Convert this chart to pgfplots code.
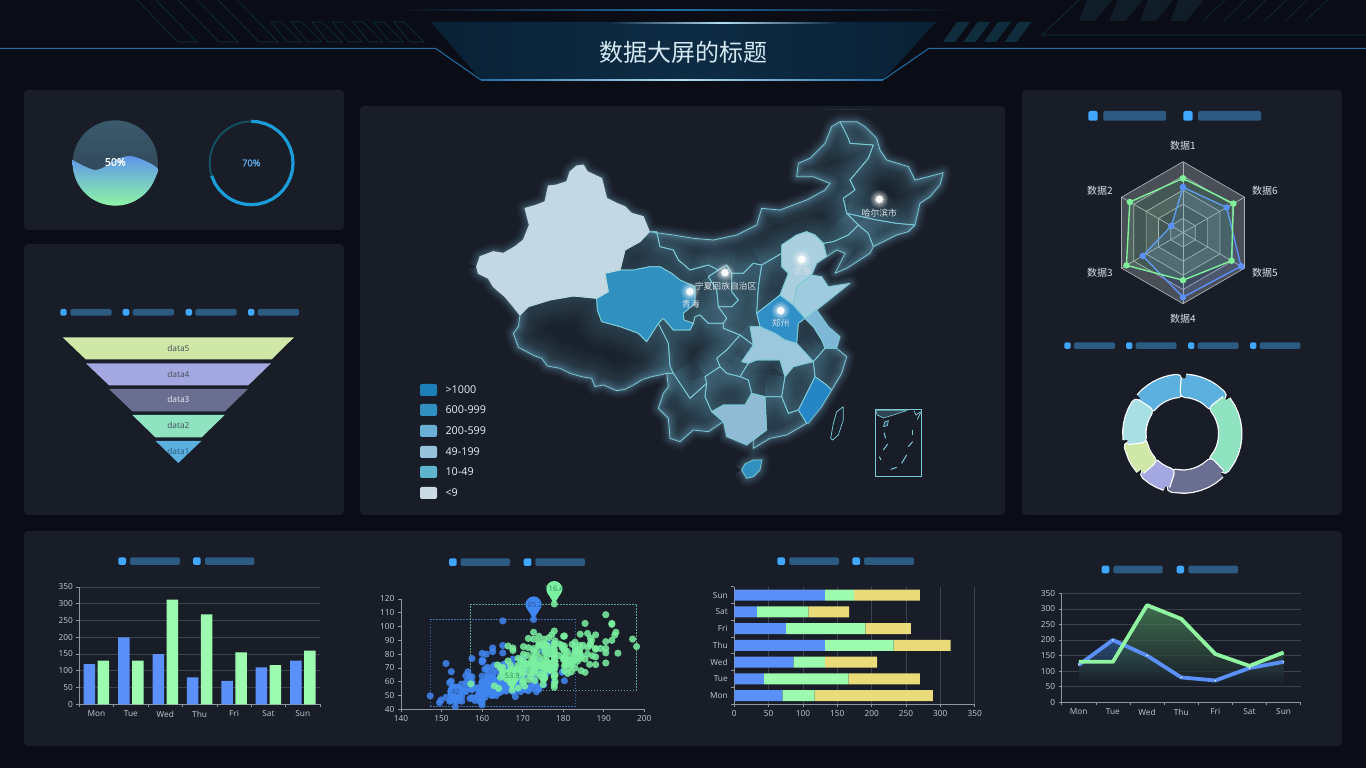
\documentclass[border=0pt]{standalone}
\usepackage{fontspec}
\setmainfont{Noto Sans}
\newfontfamily\cjk{Noto Sans CJK SC}
\newfontfamily\bfn{Noto Sans}[FakeBold=1.6]
\usepackage{pgfplots}
\usepackage{pgfplotstable}
\pgfplotsset{compat=1.18}
\usetikzlibrary{calc}
\definecolor{bgc}{HTML}{0A0D16}
\definecolor{panel}{HTML}{181D28}
\definecolor{sq}{HTML}{3FA7FF}
\definecolor{bar}{HTML}{2C5A80}
\definecolor{cblue}{HTML}{5B8FF9}
\definecolor{cgreen}{HTML}{9DFBAF}
\definecolor{cyel}{HTML}{E9DB7A}
\definecolor{tickc}{HTML}{B9C0C7}
\definecolor{axc}{HTML}{8F969E}
\definecolor{gridc}{HTML}{3B424C}
\definecolor{glowc}{HTML}{6A9DB4}
\definecolor{mapline}{HTML}{7CCAD6}
\definecolor{dec}{HTML}{0D3442}
\definecolor{decs}{HTML}{0F2D3D}
\definecolor{decd}{HTML}{101D29}
\definecolor{HTMLc1}{HTML}{1F6FA5}
\definecolor{HTMLc2}{HTML}{B5DCEF}
\definecolor{HTMLd1}{HTML}{0A2135}
\definecolor{HTMLd2}{HTML}{0D2C44}
\definecolor{HTMLt}{HTML}{D5E8F2}
\definecolor{HTMLw1}{HTML}{3A5A6C}
\definecolor{HTMLw2}{HTML}{2B3E4E}
\definecolor{HTMLw3}{HTML}{5F95EA}
\definecolor{HTMLw4}{HTML}{8EF5A5}
\definecolor{HTMLg1}{HTML}{14505F}
\definecolor{HTMLg2}{HTML}{1A9DD9}
\definecolor{HTMLg3}{HTML}{5AA6E0}
\definecolor{HTMLp1}{HTML}{5CB0E0}
\definecolor{HTMLp2}{HTML}{8FE3C0}
\definecolor{HTMLp3}{HTML}{6A6F92}
\definecolor{HTMLp4}{HTML}{A3A8E0}
\definecolor{HTMLp5}{HTML}{CFE8A8}
\definecolor{HTMLp6}{HTML}{A8DFE5}
\definecolor{HTMLf1}{HTML}{4A5560}
\definecolor{HTMLf2}{HTML}{E4E7EE}
\definecolor{HTMLf3}{HTML}{2F5F80}
\definecolor{HTMLm1}{HTML}{C3D8E2}
\definecolor{HTMLm2}{HTML}{3090BF}
\definecolor{HTMLm3}{HTML}{AACFDF}
\definecolor{HTMLm4}{HTML}{9FCBDF}
\definecolor{HTMLm5}{HTML}{2F8FC6}
\definecolor{HTMLm6}{HTML}{7FB8D6}
\definecolor{HTMLm7}{HTML}{9CC7DC}
\definecolor{HTMLm8}{HTML}{8FBCD4}
\definecolor{HTMLm9}{HTML}{2585C5}
\definecolor{HTMLm10}{HTML}{2F4553}
\definecolor{HTMLlab}{HTML}{DDE3E8}
\definecolor{HTMLl1}{HTML}{1D7FB7}
\definecolor{HTMLl3}{HTML}{6AB0D4}
\definecolor{HTMLl4}{HTML}{98C3DA}
\definecolor{HTMLl5}{HTML}{5EB4CF}
\definecolor{HTMLl6}{HTML}{C9DAE4}
\definecolor{HTMLr0}{HTML}{A9AEB4}
\definecolor{HTMLr1}{HTML}{4A4E56}
\definecolor{HTMLr2}{HTML}{3A4049}
\definecolor{HTMLr3}{HTML}{7FF09A}
\definecolor{HTMLs1}{HTML}{4086F0}
\definecolor{HTMLs2}{HTML}{7BF0A0}
\definecolor{HTMLs3}{HTML}{3F6FB0}
\definecolor{HTMLs4}{HTML}{4FA98A}
\definecolor{HTMLs5}{HTML}{2A559A}
\definecolor{HTMLs6}{HTML}{2F8A5A}
\definecolor{HTMLa1}{HTML}{2F5C8F}
\definecolor{HTMLa2}{HTML}{4F8F5F}
\definecolor{HTMLa3}{HTML}{90F5A0}
\newcommand\fs[1]{\fontsize{#1}{#1}\selectfont}
\newcommand\mk[2]{\pgfplotstableread[row sep=\\,header=false]{#2}#1}
% ---------- map polygons (picture coordinates) ----------
\mk\tXJ{50 470\\60 440\\100 425\\130 430\\165 410\\190 390\\208 345\\195 295\\230 285\\255 275\\265 228\\290 225\\320 215\\330 185\\350 168\\370 165\\382 185\\425 205\\440 265\\470 280\\495 290\\515 310\\550 320\\568 365\\540 395\\495 420\\480 480\\435 490\\445 545\\410 565\\340 558\\270 570\\205 590\\180 615\\160 590\\135 560\\100 530\\85 505\\55 490\\50 470\\}
\mk\tXZ{180 615\\205 590\\270 570\\340 558\\410 565\\412 600\\425 635\\480 650\\535 670\\560 695\\595 640\\600 650\\625 700\\630 770\\640 790\\620 790\\600 795\\575 800\\548 808\\520 825\\495 838\\470 842\\430 825\\405 830\\395 805\\365 800\\330 790\\300 775\\262 768\\245 745\\225 738\\175 712\\160 670\\175 650\\180 615\\}
\mk\tQH{435 490\\480 480\\520 480\\570 470\\600 470\\635 490\\660 510\\705 530\\705 580\\670 610\\672 630\\700 640\\690 660\\640 660\\610 625\\595 640\\560 695\\535 670\\480 650\\425 635\\412 600\\410 565\\445 545\\435 490\\}
\mk\tGS{568 365\\590 365\\600 410\\640 420\\655 450\\690 480\\745 465\\775 480\\745 500\\770 540\\775 590\\800 625\\790 640\\745 640\\720 615\\705 620\\700 640\\672 630\\670 610\\705 580\\705 530\\660 510\\635 490\\600 470\\570 470\\520 480\\480 480\\495 420\\540 395\\568 365\\}
\mk\tNX{745 500\\775 480\\800 465\\815 490\\815 545\\835 570\\815 590\\775 590\\770 540\\745 500\\}
\mk\tSN{815 490\\850 490\\880 460\\905 465\\895 530\\890 610\\900 650\\870 650\\880 705\\840 675\\790 655\\790 640\\800 625\\775 590\\815 590\\835 570\\815 545\\815 490\\}
\mk\tSX{905 465\\965 430\\965 470\\985 490\\960 555\\890 610\\895 530\\905 465\\}
\mk\tNM{568 365\\640 375\\700 385\\760 390\\830 375\\890 345\\905 295\\960 300\\1040 270\\1095 240\\1110 220\\1060 200\\1010 200\\1015 160\\1050 145\\1095 100\\1115 50\\1140 35\\1165 85\\1170 100\\1240 105\\1225 145\\1170 210\\1185 240\\1150 265\\1160 310\\1195 345\\1165 375\\1120 395\\1090 400\\1065 375\\1040 365\\1010 375\\965 405\\965 430\\905 465\\880 460\\850 490\\815 490\\800 465\\775 480\\745 465\\690 480\\655 450\\640 420\\600 410\\590 365\\568 365\\}
\mk\tHL{1140 35\\1190 35\\1215 50\\1250 85\\1260 120\\1280 150\\1345 170\\1365 210\\1405 200\\1450 188\\1440 225\\1410 260\\1380 280\\1365 345\\1310 340\\1250 330\\1160 310\\1150 265\\1185 240\\1170 210\\1225 145\\1240 105\\1170 100\\1165 85\\1140 35\\}
\mk\tJL{1160 310\\1250 330\\1310 340\\1365 345\\1345 365\\1310 375\\1270 395\\1240 410\\1225 370\\1195 345\\1160 310\\}
\mk\tLN{1195 345\\1225 370\\1240 410\\1230 430\\1160 475\\1125 490\\1155 430\\1130 420\\1100 440\\1090 400\\1120 395\\1165 375\\1195 345\\}
\mk\tHE{965 405\\1010 375\\1040 365\\1065 375\\1090 400\\1100 440\\1070 460\\1055 495\\1010 530\\1000 585\\960 555\\985 490\\965 470\\965 430\\965 405\\}
\mk\tSD{1000 585\\1010 530\\1055 495\\1085 500\\1105 530\\1170 520\\1120 560\\1070 600\\1035 625\\1000 585\\}
\mk\tHA{890 610\\960 555\\1000 585\\1035 625\\1015 640\\1010 700\\975 690\\945 670\\900 650\\890 610\\}
\mk\tHB{870 650\\900 650\\945 670\\975 690\\1010 700\\1060 755\\1000 770\\975 800\\960 750\\890 750\\865 760\\845 755\\880 705\\870 650\\}
\mk\tCQ{840 675\\880 705\\845 755\\865 760\\840 800\\800 790\\780 770\\770 745\\800 720\\840 675\\}
\mk\tSC{600 650\\595 640\\610 625\\640 660\\690 660\\700 640\\705 620\\720 615\\745 640\\790 640\\790 655\\840 675\\800 720\\770 745\\780 770\\735 800\\740 820\\690 865\\660 820\\640 790\\630 770\\625 700\\600 650\\}
\mk\tGZ{735 800\\780 770\\800 790\\840 800\\865 810\\875 850\\855 885\\790 885\\755 905\\735 860\\740 820\\735 800\\}
\mk\tHN{865 760\\890 750\\960 750\\975 800\\965 860\\915 860\\875 850\\865 810\\840 800\\865 760\\}
\mk\tGX{755 905\\790 885\\855 885\\875 850\\915 860\\920 960\\880 990\\860 1005\\800 980\\790 935\\755 905\\}
\mk\tYN{640 790\\660 820\\690 865\\740 820\\735 860\\755 905\\790 935\\745 965\\700 960\\660 995\\630 985\\625 925\\595 895\\610 850\\625 830\\620 790\\640 790\\}
\mk\tGD{915 860\\965 860\\985 910\\1015 900\\1040 940\\980 975\\930 985\\880 1015\\880 990\\920 960\\915 860\\}
\mk\tFJ{1065 800\\1100 825\\1115 840\\1085 890\\1045 940\\1040 940\\1015 900\\1065 800\\}
\mk\tJX{975 800\\1000 770\\1060 755\\1065 800\\1015 900\\985 910\\965 860\\975 800\\}
\mk\tZJ{1095 715\\1130 715\\1160 740\\1145 790\\1115 840\\1100 825\\1065 800\\1060 755\\1095 715\\}
\mk\tAH{1015 640\\1035 625\\1060 650\\1085 690\\1095 715\\1060 755\\1010 700\\1015 640\\}
\mk\tJS{1035 625\\1070 600\\1105 650\\1140 680\\1130 715\\1095 715\\1085 690\\1060 650\\1035 625\\}
\mk\tHI{845 1080\\855 1062\\880 1050\\905 1050\\900 1080\\880 1100\\860 1105\\845 1080\\}
\mk\tTW{1112 985\\1120 940\\1130 905\\1150 890\\1150 930\\1135 975\\1118 990\\1112 985\\}
\mk\tOUT{50 470\\60 440\\100 425\\130 430\\165 410\\190 390\\208 345\\195 295\\230 285\\255 275\\265 228\\290 225\\320 215\\330 185\\350 168\\370 165\\382 185\\425 205\\440 265\\470 280\\495 290\\515 310\\550 320\\568 365\\640 375\\700 385\\760 390\\830 375\\890 345\\905 295\\960 300\\1040 270\\1095 240\\1110 220\\1060 200\\1010 200\\1015 160\\1050 145\\1095 100\\1115 50\\1140 35\\1190 35\\1215 50\\1250 85\\1260 120\\1280 150\\1345 170\\1365 210\\1405 200\\1450 188\\1440 225\\1410 260\\1380 280\\1365 345\\1345 365\\1310 375\\1270 395\\1240 410\\1230 430\\1160 475\\1125 490\\1155 430\\1130 420\\1100 440\\1070 460\\1055 495\\1085 500\\1105 530\\1170 520\\1120 560\\1070 600\\1105 650\\1140 680\\1130 715\\1160 740\\1145 790\\1115 840\\1085 890\\1045 940\\1040 940\\980 975\\930 985\\880 1015\\880 990\\860 1005\\800 980\\790 935\\745 965\\700 960\\660 995\\630 985\\625 925\\595 895\\610 850\\625 830\\620 790\\600 795\\575 800\\548 808\\520 825\\495 838\\470 842\\430 825\\405 830\\395 805\\365 800\\330 790\\300 775\\262 768\\245 745\\225 738\\175 712\\160 670\\175 650\\180 615\\160 590\\135 560\\100 530\\85 505\\55 490\\50 470\\}
\mk\tMASK{0 0\\1500 0\\1500 1170\\0 1170\\0 0\\50 470\\60 440\\100 425\\130 430\\165 410\\190 390\\208 345\\195 295\\230 285\\255 275\\265 228\\290 225\\320 215\\330 185\\350 168\\370 165\\382 185\\425 205\\440 265\\470 280\\495 290\\515 310\\550 320\\568 365\\640 375\\700 385\\760 390\\830 375\\890 345\\905 295\\960 300\\1040 270\\1095 240\\1110 220\\1060 200\\1010 200\\1015 160\\1050 145\\1095 100\\1115 50\\1140 35\\1190 35\\1215 50\\1250 85\\1260 120\\1280 150\\1345 170\\1365 210\\1405 200\\1450 188\\1440 225\\1410 260\\1380 280\\1365 345\\1345 365\\1310 375\\1270 395\\1240 410\\1230 430\\1160 475\\1125 490\\1155 430\\1130 420\\1100 440\\1070 460\\1055 495\\1085 500\\1105 530\\1170 520\\1120 560\\1070 600\\1105 650\\1140 680\\1130 715\\1160 740\\1145 790\\1115 840\\1085 890\\1045 940\\1040 940\\980 975\\930 985\\880 1015\\880 990\\860 1005\\800 980\\790 935\\745 965\\700 960\\660 995\\630 985\\625 925\\595 895\\610 850\\625 830\\620 790\\600 795\\575 800\\548 808\\520 825\\495 838\\470 842\\430 825\\405 830\\395 805\\365 800\\330 790\\300 775\\262 768\\245 745\\225 738\\175 712\\160 670\\175 650\\180 615\\160 590\\135 560\\100 530\\85 505\\55 490\\50 470\\0 0\\}
\definecolor{provd}{HTML}{19232E}
\newcommand\dark[1]{\addplot[draw=none,fill=provd] table {#1};}
\newcommand\glow[1]{%
 \addplot[draw=glowc,opacity=.028,line width=50pt,line join=round] table {#1};
 \addplot[draw=glowc,opacity=.028,line width=44pt,line join=round] table {#1};
 \addplot[draw=glowc,opacity=.028,line width=38pt,line join=round] table {#1};
 \addplot[draw=glowc,opacity=.028,line width=33pt,line join=round] table {#1};
 \addplot[draw=glowc,opacity=.028,line width=28pt,line join=round] table {#1};
 \addplot[draw=glowc,opacity=.028,line width=23pt,line join=round] table {#1};
 \addplot[draw=glowc,opacity=.028,line width=18pt,line join=round] table {#1};
 \addplot[draw=glowc,opacity=.028,line width=14pt,line join=round] table {#1};
 \addplot[draw=glowc,opacity=.028,line width=10pt,line join=round] table {#1};
 \addplot[draw=glowc,opacity=.028,line width=6pt,line join=round] table {#1};
 \addplot[draw=glowc,opacity=.028,line width=3pt,line join=round] table {#1};}
\newcommand\oglow[1]{%
 \addplot[draw=glowc,opacity=.05,line width=17pt,line join=round] table {#1};
 \addplot[draw=glowc,opacity=.05,line width=14pt,line join=round] table {#1};
 \addplot[draw=glowc,opacity=.06,line width=11pt,line join=round] table {#1};
 \addplot[draw=glowc,opacity=.07,line width=8.5pt,line join=round] table {#1};
 \addplot[draw=glowc,opacity=.08,line width=6pt,line join=round] table {#1};
 \addplot[draw=glowc,opacity=.10,line width=4pt,line join=round] table {#1};
 \addplot[draw=glowc,opacity=.12,line width=2.5pt,line join=round] table {#1};}
\newcommand\lite[2]{\addplot[draw=none,fill=#2] table {#1};}
\newcommand\edge[1]{\addplot[draw=mapline,line width=.75pt,line join=round] table {#1};}
\newcommand\dseg[2]{%
 \addplot[data cs=polar,draw=white,fill=white,line width=10.5pt,line join=round] coordinates {#2};
 \addplot[data cs=polar,draw=#1,fill=#1,line width=8pt,line join=round] coordinates {#2};}
\pgfdeclareplotmark{dot}{\pgfpathcircle{\pgfpointorigin}{\pgfplotmarksize}\pgfusepathqfill}
\newcommand\cityglow[2]{\addplot[only marks,mark=dot,mark size=#1pt,mark options={fill=white,opacity=#2}] coordinates {(1258,268)(1025,448)(795,488)(690,545)(962,602)};}
\pgfdeclareplotmark{pin}{%
 \pgfpathcircle{\pgfpoint{0pt}{15pt}}{8pt}\pgfusepathqfill
 \pgfpathmoveto{\pgfpoint{-6.8pt}{11pt}}\pgfpathlineto{\pgfpoint{6.8pt}{11pt}}\pgfpathlineto{\pgfpoint{0pt}{0pt}}\pgfpathclose\pgfusepathqfill}
\pgfplotsset{
 base/.style={scale only axis,anchor=south west,/pgf/number format/assume math mode=true,
  tick label style={font=\fs{8.3},text=tickc},
  axis line style={draw=axc,line width=.7pt},
  tick style={draw=axc,line width=.6pt},
  major tick length=3pt,minor tick length=3pt,tick align=outside,
  axis x line*=bottom,axis y line*=left,xtick pos=bottom,ytick pos=left},
 bare/.style={scale only axis,anchor=south west,axis lines=none,ticks=none,clip=false},
 cats/.style={xmin=-.5,xmax=6.5,xtick={0,...,6},xticklabels={Mon,Tue,Wed,Thu,Fri,Sat,Sun},
  minor xtick={-.5,.5,1.5,2.5,3.5,4.5,5.5,6.5},major x tick style={draw=none},
  ymin=0,ymax=350,ytick={0,50,...,350},ymajorgrids,grid style={draw=gridc,line width=.7pt}},
}
\newcommand\Lp[5]{\fill[#5,rounded corners=1.5pt] (#1,#3) rectangle (#2,#4);}
\newcommand\Lg[4]{\Lp{#1}{#2}{#3}{#4}{sq}}
\newcommand\Lb[4]{\Lp{#1}{#2}{#3}{#4}{bar}}
\newcommand\ml[3]{\fill[#2,rounded corners=2pt] (420,#1-6) rectangle (437,#1+6);\node[anchor=west,text=HTMLlab,font=\fs{10.8}] at (442,#1) {#3};}
\begin{document}
\begin{tikzpicture}
\path[use as bounding box] (0,0) rectangle (1366pt,768pt);
\begin{scope}[x=1pt,y=-1pt,yshift=768pt]
\fill[bgc] (0,0) rectangle (1366,768);
% header decoration
\foreach \ia in {137,178,218}{\draw[dec,line width=.6pt] (\ia,0)--(\ia+41,42)--(\ia+60,42)--(\ia+19,0);}
\foreach \ia in {0,...,6}{\draw[dec,line width=.6pt] ({271+\ia*20.5},22)--({287+\ia*20.5},42)--({301+\ia*20.5},42)--({281+\ia*20.5},22)--cycle;}
\foreach \ia in {0,...,3}{\fill[decs] ({957+\ia*20.5},22)--({970+\ia*20.5},22)--({955+\ia*20.5},42)--({943+\ia*20.5},42)--cycle;}
\draw[dec,line width=.6pt] (1079,0)--(1042,35)--(1366,35);
\foreach \ia in {0,...,3}{\fill[decd] ({1087+\ia*30.5},0)--({1112+\ia*30.5},0)--({1095+\ia*30.5},21)--({1079+\ia*30.5},21)--cycle;}
\foreach \ia in {0,...,5}{\draw[dec,line width=.5pt] ({1203+\ia*20.5},21)--({1225+\ia*20.5},0);}
\shade[left color=bgc,right color=bgc,middle color=HTMLc1] (396,9.9) rectangle (957,10.8);
\shade[left color=HTMLd1,right color=HTMLd1,middle color=HTMLd2] (431,22)--(936,22)--(883,80)--(481,80)--cycle;
\draw[HTMLc1,line width=1pt] (0,48.3)--(435.5,48.3)--(481,80);
\draw[HTMLc1,line width=1pt] (883,80)--(929,48.3)--(1366,48.3);
\shade[left color=HTMLc1,right color=HTMLc1,middle color=HTMLc2] (481,79.4) rectangle (883,80.6);
\shade[left color=HTMLd2,right color=HTMLd2,middle color=HTMLc2] (610,23) rectangle (835,24);
\node[text=HTMLt,font=\cjk\fs{24}] at (683,52) {数据大屏的标题};
% panels
\fill[panel,rounded corners=4pt] (24,90) rectangle (344,230);
\fill[panel,rounded corners=4pt] (24,244) rectangle (344,515);
\fill[panel,rounded corners=4pt] (360,106) rectangle (1005,515);
\fill[panel,rounded corners=4pt] (1022,90) rectangle (1342,515);
\fill[panel,rounded corners=4pt] (24,531) rectangle (1342,746);
% legends
\Lg{60.3}{66.7}{309}{315.7}\Lb{70.3}{111.7}{309}{315.7}\Lg{122.7}{129.3}{309}{315.7}\Lb{132.7}{174}{309}{315.7}\Lg{185.7}{192}{309}{315.7}\Lb{195.3}{236.7}{309}{315.7}\Lg{248}{254.3}{309}{315.7}\Lb{257.7}{299}{309}{315.7}
\Lg{1064.3}{1070.7}{342.3}{349}\Lb{1074}{1115}{342.3}{349}\Lg{1126}{1132.3}{342.3}{349}\Lb{1135.7}{1176.7}{342.3}{349}\Lg{1188}{1194.3}{342.3}{349}\Lb{1197.7}{1238.7}{342.3}{349}\Lg{1250}{1256.3}{342.3}{349}\Lb{1259.7}{1300.3}{342.3}{349}
\Lg{1088.3}{1097.7}{111}{120.7}\Lb{1103.3}{1166}{111}{120.7}\Lg{1183.3}{1192.7}{111}{120.7}\Lb{1198}{1261}{111}{120.7}
\Lg{118.3}{126}{557.3}{565}\Lb{130}{180}{557.3}{565}\Lg{193}{200.7}{557.3}{565}\Lb{205}{254.3}{557.3}{565}
\Lg{449}{456.7}{558.3}{566}\Lb{460.7}{510}{558.3}{566}\Lg{523.7}{531.3}{558.3}{566}\Lb{535.3}{585}{558.3}{566}
\Lg{777.3}{785}{557.3}{565}\Lb{789.3}{839}{557.3}{565}\Lg{852.3}{860}{557.3}{565}\Lb{864}{914}{557.3}{565}
\Lg{1101.7}{1109.3}{565.7}{573.3}\Lb{1113.3}{1162.7}{565.7}{573.3}\Lg{1176.7}{1184}{565.7}{573.3}\Lb{1188.3}{1238}{565.7}{573.3}
\end{scope}
% ---------- liquid ----------
\begin{axis}[bare,at={(72.6pt,562.3pt)},width=85.4pt,height=85.4pt,xmin=-42.7,xmax=42.7,ymin=-42.7,ymax=42.7]
\addplot[data cs=polar,smooth,tension=.55,draw=none,shade,top color=HTMLw1,bottom color=HTMLw2] coordinates {(0,42.7)(15,42.7)(30,42.7)(45,42.7)(60,42.7)(75,42.7)(90,42.7)(105,42.7)(120,42.7)(135,42.7)(150,42.7)(165,42.7)(180,42.7)(195,42.7)(210,42.7)(225,42.7)(240,42.7)(255,42.7)(270,42.7)(285,42.7)(300,42.7)(315,42.7)(330,42.7)(345,42.7)(360,42.7)};
\addplot[smooth,tension=.5,draw=none,shade,top color=HTMLw3,bottom color=HTMLw4] coordinates {(-42.7,3)(-32,-2.7)(-20.3,-7)(-10.3,-3.7)(1.3,3.7)(14.7,7)(28,3)(42.3,-5.3)(40.1,-14.6)(35,-24.5)(27.4,-32.7)(18,-38.7)(7.4,-42.1)(-3.7,-42.5)(-14.6,-40.1)(-24.5,-35)(-32.7,-27.4)(-38.7,-18)(-42.1,-7.4)(-42.7,3)};
\node[text=white,font=\bfn\fs{10.5}] at (axis cs:0,1) {50\%};
\end{axis}
% ---------- gauge ----------
\begin{axis}[bare,at={(209.6pt,563.3pt)},width=83.4pt,height=83.4pt,xmin=-41.7,xmax=41.7,ymin=-41.7,ymax=41.7]
\addplot[data cs=polar,draw=HTMLg1,line width=2pt,line join=round] coordinates {(-160,41.7)(-170,41.7)(-180,41.7)(170,41.7)(160,41.7)(150,41.7)(140,41.7)(130,41.7)(120,41.7)(110,41.7)(100,41.7)(90,41.7)};
\addplot[data cs=polar,draw=HTMLg2,line width=3.2pt,line join=round] coordinates {(90,41.7)(80,41.7)(70,41.7)(60,41.7)(50,41.7)(40,41.7)(30,41.7)(20,41.7)(10,41.7)(0,41.7)(-10,41.7)(-20,41.7)(-30,41.7)(-40,41.7)(-50,41.7)(-60,41.7)(-70,41.7)(-80,41.7)(-90,41.7)(-100,41.7)(-110,41.7)(-120,41.7)(-130,41.7)(-140,41.7)(-150,41.7)(-162,41.7)};
\node[text=HTMLg3,font=\bfn\fs{9.3}] at (axis cs:0,0) {70\%};
\end{axis}
% ---------- funnel ----------
\begin{axis}[bare,at={(40pt,293pt)},width=280pt,height=180pt,xmin=0,xmax=840,ymin=0,ymax=540,y dir=reverse]
\addplot[draw=none,fill=HTMLp5] coordinates {(68,127)(762,127)(695,193)(137,193)(68,127)};
\addplot[draw=none,fill=HTMLp4] coordinates {(138,205)(693,205)(625,271)(207,271)(138,205)};
\addplot[draw=none,fill=HTMLp3] coordinates {(207,282)(624,282)(555,349)(277,349)(207,282)};
\addplot[draw=none,fill=HTMLp2] coordinates {(277,360)(554,360)(485,427)(346,427)(277,360)};
\addplot[draw=none,fill=HTMLp1] coordinates {(347,438)(484,438)(415,504)(347,438)};
\node[font=\fs{8.3},text=HTMLf1] at (axis cs:415,160) {data5};
\node[font=\fs{8.3},text=HTMLf1] at (axis cs:415,237) {data4};
\node[font=\fs{8.3},text=HTMLf2] at (axis cs:415,314) {data3};
\node[font=\fs{8.3},text=HTMLf1] at (axis cs:415,391) {data2};
\node[font=\fs{8.3},text=HTMLf3] at (axis cs:415,468) {data1};
\end{axis}
% ---------- map ----------
\begin{axis}[scale only axis,anchor=south west,axis lines=none,ticks=none,at={(460pt,268pt)},width=500pt,height=390pt,xmin=0,xmax=1500,ymin=0,ymax=1170,y dir=reverse]
\dark\tXZ\dark\tGS\dark\tNX\dark\tSN\dark\tSX\dark\tNM\dark\tHL\dark\tJL\dark\tLN\dark\tCQ\dark\tSC\dark\tGZ\dark\tHN\dark\tYN\dark\tGD\dark\tJX\dark\tZJ\dark\tAH
\glow\tXZ\glow\tGS\glow\tNX\glow\tSN\glow\tSX\glow\tNM\glow\tHL\glow\tJL\glow\tLN\glow\tCQ\glow\tSC\glow\tGZ\glow\tHN\glow\tYN\glow\tGD\glow\tJX\glow\tZJ\glow\tAH
\addplot[draw=none,fill=panel,even odd rule] table {\tMASK};
\oglow\tOUT
\oglow\tHI
\lite\tXJ{HTMLm1}\lite\tQH{HTMLm2}\lite\tHE{HTMLm3}\lite\tSD{HTMLm4}\lite\tHA{HTMLm5}\lite\tJS{HTMLm6}\lite\tHB{HTMLm7}\lite\tGX{HTMLm8}\lite\tFJ{HTMLm9}\lite\tHI{HTMLm2}
\addplot[draw=none,fill=provd] table {\tTW};
\edge\tXZ\edge\tGS\edge\tNX\edge\tSN\edge\tSX\edge\tNM\edge\tHL\edge\tJL\edge\tLN\edge\tCQ\edge\tSC\edge\tGZ\edge\tHN\edge\tYN\edge\tGD\edge\tJX\edge\tZJ\edge\tAH\edge\tHB\edge\tGX\edge\tFJ\edge\tHA\edge\tJS\edge\tSD\edge\tHE\edge\tQH\edge\tTW\edge\tHI
\addplot[draw=HTMLm1,line width=.9pt,line join=round] table {\tXJ};
% nanhai inset
\addplot[draw=mapline,line width=1pt] coordinates {(1245,900)(1385,900)(1385,1100)(1245,1100)(1245,900)};
\addplot[draw=mapline,fill=HTMLm10,line width=.6pt] coordinates {(1247,902)(1252,915)(1270,924)(1300,915)(1340,902)(1247,902)};
\addplot[draw=mapline,line width=.7pt] coordinates {(1362,902)(1368,915)(1382,905)};
\addplot[draw=mapline,line width=.7pt] coordinates {(1382,908)(1372,928)};
\addplot[draw=mapline,fill=HTMLm10,line width=.7pt] coordinates {(1270,950)(1275,935)(1285,932)(1282,947)(1270,950)};
\addplot[draw=mapline,line width=1pt] coordinates {(1272,968)(1277,985)};
\addplot[draw=mapline,line width=1pt] coordinates {(1356,960)(1356,975)};
\addplot[draw=mapline,line width=1pt] coordinates {(1270,1020)(1283,1002)};
\addplot[draw=mapline,line width=1pt] coordinates {(1345,1010)(1358,995)};
\addplot[draw=mapline,line width=1pt] coordinates {(1258,1040)(1263,1050)};
\addplot[draw=mapline,line width=1pt] coordinates {(1325,1060)(1340,1035)};
\addplot[draw=mapline,line width=1pt] coordinates {(1292,1078)(1310,1072)};
% city points
\cityglow{9.5}{.07}\cityglow{8.5}{.09}\cityglow{7.5}{.11}\cityglow{6.5}{.14}\cityglow{5.5}{.18}\cityglow{4.5}{.25}\cityglow{3.7}{.95}
\node[font=\cjk\fs{8.8},text=HTMLlab] at (axis cs:1258,308) {哈尔滨市};
\node[font=\cjk\fs{8.8},text=HTMLlab] at (axis cs:1028,483) {北京};
\node[font=\cjk\fs{8.8},text=HTMLlab] at (axis cs:797,528) {宁夏回族自治区};
\node[font=\cjk\fs{8.8},text=HTMLlab] at (axis cs:692,582) {青海};
\node[font=\cjk\fs{8.8},text=HTMLlab] at (axis cs:962,640) {郑州};
\end{axis}
% map legend
\begin{scope}[x=1pt,y=-1pt,yshift=768pt]
\ml{390}{HTMLl1}{>1000}
\ml{410}{HTMLm2}{600-999}
\ml{431}{HTMLl3}{200-599}
\ml{452}{HTMLl4}{49-199}
\ml{472}{HTMLl5}{10-49}
\ml{493}{HTMLl6}{<9}
\end{scope}
% ---------- radar ----------
\begin{axis}[bare,at={(1112pt,464.3pt)},width=142pt,height=142pt,xmin=-100,xmax=100,ymin=-100,ymax=100]
\addplot[data cs=polar,draw=HTMLr0,fill=HTMLr1,line width=.7pt] coordinates {(90,100)(150,100)(210,100)(270,100)(330,100)(30,100)(90,100)};
\addplot[data cs=polar,draw=HTMLr0,fill=HTMLr2,line width=.7pt] coordinates {(90,80)(150,80)(210,80)(270,80)(330,80)(30,80)(90,80)};
\addplot[data cs=polar,draw=HTMLr0,fill=HTMLr1,line width=.7pt] coordinates {(90,60)(150,60)(210,60)(270,60)(330,60)(30,60)(90,60)};
\addplot[data cs=polar,draw=HTMLr0,fill=HTMLr2,line width=.7pt] coordinates {(90,40)(150,40)(210,40)(270,40)(330,40)(30,40)(90,40)};
\addplot[data cs=polar,draw=HTMLr0,fill=HTMLr1,line width=.7pt] coordinates {(90,20)(150,20)(210,20)(270,20)(330,20)(30,20)(90,20)};
\addplot[data cs=polar,draw=HTMLr0,line width=.7pt] coordinates {(90,100)(90,0)(270,100)};
\addplot[data cs=polar,draw=HTMLr0,line width=.7pt] coordinates {(150,100)(150,0)(330,100)};
\addplot[data cs=polar,draw=HTMLr0,line width=.7pt] coordinates {(210,100)(210,0)(30,100)};
\addplot[data cs=polar,draw=cblue,fill=cblue,fill opacity=.14,line width=1.4pt,mark=*,mark size=2.5pt,mark options={fill=cblue,draw=cblue,fill opacity=1}] coordinates {(90,64)(150,19)(210,65.5)(270,91)(330,94.5)(30,71)(90,64)};
\addplot[data cs=polar,draw=HTMLr3,fill=HTMLr3,fill opacity=.14,line width=1.4pt,mark=*,mark size=2.5pt,mark options={fill=HTMLr3,draw=HTMLr3,fill opacity=1}] coordinates {(90,76.5)(150,86.5)(210,92)(270,67)(330,79)(30,82)(90,76.5)};
\end{axis}
\begin{scope}[x=1pt,y=-1pt,yshift=768pt]
\foreach \xp/\yp/\lab in {1183/146/数据1,1100/191/数据2,1100/273/数据3,1183/319/数据4,1265/273/数据5,1265/191/数据6}
 {\node[font=\cjk\fs{10},text=HTMLlab] at (\xp,\yp) {\lab};}
\end{scope}
% ---------- donut ----------
\begin{axis}[bare,at={(1122.3pt,274.3pt)},width=120pt,height=120pt,xmin=-60,xmax=60,ymin=-60,ymax=60]
\dseg{HTMLp1}{(139.5,55)(132,55)(126,55)(120,55)(114,55)(108,55)(102,55)(95.5,55)(95.5,41)(102,41)(108,41)(114,41)(120,41)(126,41)(132,41)(139.5,41)(139.5,55)}
\dseg{HTMLp1}{(86.5,55)(79,55)(73,55)(67,55)(61,55)(55,55)(44.5,55)(44.5,41)(55,41)(61,41)(67,41)(73,41)(79,41)(86.5,41)(86.5,55)}
\dseg{HTMLp2}{(37.5,55)(28,55)(20,55)(12,55)(4,55)(-4,55)(-12,55)(-20,55)(-28,55)(-39.5,55)(-39.5,41)(-28,41)(-20,41)(-12,41)(-4,41)(4,41)(12,41)(20,41)(28,41)(37.5,41)(37.5,55)}
\dseg{HTMLp3}{(-46.5,55)(-56,55)(-64,55)(-72,55)(-80,55)(-88,55)(-101,55)(-101,41)(-88,41)(-80,41)(-72,41)(-64,41)(-56,41)(-46.5,41)(-46.5,55)}
\dseg{HTMLp4}{(-108,55)(-116,55)(-123,55)(-132.2,55)(-132.2,41)(-123,41)(-116,41)(-108,41)(-108,55)}
\dseg{HTMLp5}{(-139.2,55)(-147,55)(-154,55)(-166.5,55)(-166.5,41)(-154,41)(-147,41)(-139.2,41)(-139.2,55)}
\dseg{HTMLp6}{(186.5,55)(177,55)(170,55)(163,55)(156,55)(147.1,55)(147.1,41)(156,41)(163,41)(170,41)(177,41)(186.5,41)(186.5,55)}
\end{axis}
% ---------- bar chart ----------
\begin{axis}[base,cats,ybar,at={(79.3pt,63.7pt)},width=240.7pt,height=117.3pt,bar width=11.5pt]
\addplot[draw=none,fill=cblue,bar shift=-7pt] coordinates {(0,120)(1,200)(2,150)(3,80)(4,70)(5,110)(6,130)};
\addplot[draw=none,fill=cgreen,bar shift=7pt] coordinates {(0,130)(1,130)(2,312)(3,268)(4,155)(5,117)(6,160)};
\end{axis}
% ---------- scatter ----------
\begin{axis}[base,at={(401pt,58.7pt)},width=243.3pt,height=110.3pt,xmin=140,xmax=200,ymin=40,ymax=120,xtick={140,150,...,200},ytick={40,50,...,120},clip=false]
\addplot[only marks,mark=dot,mark size=3.6pt,mark options={fill=HTMLs1,opacity=.85}] coordinates {(161.2,51.6)(167.5,59.0)(159.5,49.2)(157.0,63.0)(155.8,53.6)(170.0,59.0)(159.1,47.6)(166.0,69.8)(176.2,66.8)(160.2,75.2)(172.5,55.2)(170.9,54.2)(172.9,62.5)(153.4,42.0)(160.0,50.0)(147.2,49.8)(168.2,49.2)(175.0,73.2)(157.0,47.8)(167.6,68.8)(159.5,50.6)(175.0,82.5)(166.8,57.2)(176.5,87.8)(170.2,72.8)(174.0,54.5)(173.0,59.8)(179.9,67.3)(170.5,67.8)(160.0,47.0)(154.4,46.2)(162.0,55.0)(176.5,83.0)(160.0,54.4)(152.0,45.8)(162.1,53.6)(170.0,73.2)(160.2,52.1)(161.3,67.9)(166.4,56.6)(168.9,62.3)(163.8,58.5)(167.6,54.5)(160.0,50.2)(161.3,60.3)(167.6,58.3)(165.1,56.2)(170.0,72.9)(157.5,59.8)(167.6,61.0)(160.7,69.1)(163.2,55.9)(152.4,46.5)(157.5,54.3)(168.3,54.8)(180.3,60.7)(165.5,60.0)(165.0,62.0)(164.5,60.3)(156.0,52.7)(160.0,74.3)(163.0,62.0)(165.7,73.1)(161.0,80.0)(162.0,54.7)(166.0,53.2)(174.0,75.7)(172.7,61.1)(167.6,55.7)(151.1,48.7)(164.5,52.3)(163.5,50.0)(152.0,59.3)(169.0,62.5)(164.0,55.7)(161.2,54.8)(155.0,45.9)(170.0,70.6)(176.2,67.2)(170.0,69.4)(162.5,58.2)(170.3,64.8)(164.1,71.6)(169.5,52.8)(163.2,59.8)(154.5,49.0)(159.8,50.0)(173.2,69.2)(170.0,55.9)(161.4,63.4)(169.0,58.2)(166.2,58.6)(159.4,45.7)(162.5,52.2)(159.0,48.6)(162.8,57.8)(159.0,55.6)(179.8,66.8)(162.9,59.4)(161.0,53.6)(151.1,73.2)(168.2,53.4)(168.9,69.0)(173.2,58.4)(171.8,56.2)(178.0,70.6)(164.3,59.8)(163.0,72.0)(168.5,65.2)(166.8,56.6)(172.7,105.2)(163.5,51.8)(169.4,63.4)(167.8,59.0)(159.5,47.6)(167.6,63.0)(161.2,55.2)(160.0,45.0)(163.2,54.0)(162.2,50.2)(161.3,60.2)(149.5,44.8)(157.5,58.8)(163.2,56.4)(172.7,62.0)(155.0,49.2)(156.5,67.2)(164.0,53.8)(160.9,54.4)(162.8,58.0)(167.0,59.8)(160.0,54.8)(160.0,43.2)(168.9,60.5)(158.2,46.4)(156.0,64.4)(160.0,48.8)(167.1,62.2)(158.0,55.5)(167.6,57.8)(156.0,54.6)(162.1,59.2)(173.4,52.7)(159.8,53.2)(170.5,64.5)(159.2,51.8)(157.5,56.0)(161.3,63.6)(162.6,63.2)(160.0,59.5)(168.9,56.8)(165.1,64.1)(162.6,50.0)(165.1,72.3)(166.4,55.0)(160.0,55.9)(152.4,60.4)(170.2,69.1)(162.6,84.5)(170.2,55.9)(158.8,55.5)(172.7,69.5)(167.6,76.4)(162.6,61.4)(167.6,65.9)(156.2,58.6)(175.2,66.8)(172.1,56.6)(162.6,58.6)(165.1,59.1)(182.9,81.8)(166.4,70.7)(165.1,56.8)(177.8,60.0)(165.1,58.2)(175.3,72.7)(154.9,54.1)(158.8,49.1)(172.7,75.9)(168.9,55.0)(161.3,57.3)(167.6,55.0)(165.1,65.5)(175.3,65.5)(157.5,48.6)(163.8,58.6)(167.6,63.6)(165.1,55.2)(165.1,62.7)(168.9,56.6)(162.6,53.9)(164.5,63.2)(176.5,73.6)(168.9,62.0)(175.3,63.6)(159.4,53.2)(160.0,53.4)(170.2,55.0)(162.6,70.5)(160.7,55.9)(160.0,59.0)(157.5,63.6)(152.4,47.3)(170.2,67.7)(165.1,80.9)(172.7,70.5)(165.1,60.9)(170.2,63.6)(170.2,54.5)(170.2,59.1)(161.3,70.5)(167.6,52.7)(167.6,62.7)(165.1,86.3)(162.6,66.4)(152.4,67.3)(168.9,63.0)(170.2,73.6)(175.2,62.3)(175.2,57.7)(160.0,55.4)(165.1,104.1)(174.0,55.5)(170.2,77.3)(160.0,80.6)(167.6,64.5)(167.6,72.3)(167.6,61.4)(154.9,58.2)(162.6,81.8)(171.4,53.4)(157.5,54.5)(165.1,53.6)(160.0,60.0)(174.0,73.6)(162.6,63.6)(161.3,60.9)(156.2,60.0)(149.9,46.8)(169.5,57.3)(160.0,64.1)(169.5,67.3)(160.0,75.5)(172.7,68.2)(157.5,76.8)(176.5,71.8)(164.4,55.5)(160.7,48.6)(174.0,66.4)(163.8,67.3)};
\addplot[only marks,mark=dot,mark size=3.6pt,mark options={fill=HTMLs2,opacity=.85}] coordinates {(174.0,65.6)(175.3,71.8)(193.5,80.7)(186.5,72.6)(187.2,78.8)(181.5,74.8)(184.0,86.4)(184.5,78.4)(175.0,62.0)(184.0,81.6)(180.0,76.6)(177.8,83.6)(192.0,90.0)(176.0,74.6)(174.0,71.0)(184.0,79.6)(192.7,93.8)(171.5,70.0)(173.0,72.4)(176.0,85.9)(176.0,78.8)(180.5,77.8)(172.7,66.2)(176.0,86.4)(173.5,81.8)(178.0,89.6)(180.3,82.8)(180.3,76.4)(164.5,63.2)(173.0,60.9)(183.5,74.8)(175.5,70.0)(188.0,72.4)(189.2,84.1)(172.8,69.1)(170.0,59.5)(182.0,67.2)(170.0,61.3)(177.8,68.6)(184.2,80.1)(186.7,87.8)(171.4,84.7)(172.7,73.4)(175.3,72.1)(180.3,82.6)(182.9,88.7)(188.0,84.1)(177.2,94.1)(172.1,74.9)(167.0,59.1)(169.5,75.6)(174.0,86.2)(172.7,75.3)(182.2,87.1)(164.1,55.2)(163.0,57.0)(171.5,61.4)(184.2,76.8)(174.0,86.8)(174.0,72.2)(177.0,71.6)(186.0,84.8)(167.0,68.2)(171.8,66.1)(182.0,72.0)(167.0,64.6)(177.8,74.8)(164.5,70.0)(192.0,101.6)(175.5,63.2)(171.2,79.1)(181.6,78.9)(167.4,67.7)(181.1,66.0)(177.0,68.2)(174.5,63.9)(177.5,72.0)(170.5,56.8)(182.4,74.5)(197.1,90.9)(180.1,93.0)(175.5,80.9)(180.6,72.7)(184.4,68.0)(175.5,70.9)(180.6,72.5)(177.0,72.5)(177.1,83.4)(181.6,75.5)(176.5,73.0)(175.0,70.2)(174.0,73.4)(165.1,70.5)(177.0,68.9)(192.0,102.3)(176.5,68.4)(169.4,65.9)(182.1,75.7)(179.8,84.5)(175.3,87.7)(184.9,86.4)(177.3,73.2)(167.4,53.9)(178.1,72.0)(168.9,55.5)(157.2,58.4)(180.3,83.2)(170.2,72.7)(177.8,64.1)(172.7,72.3)(165.1,65.0)(186.7,86.4)(174.0,88.6)(175.3,84.1)(185.4,66.8)(177.8,75.5)(180.3,93.2)(180.3,82.7)(177.8,58.0)(177.8,79.5)(177.8,78.6)(177.8,71.8)(177.8,116.4)(163.8,72.2)(188.0,83.6)(198.1,85.5)(175.3,90.9)(166.4,85.9)(190.5,89.1)(166.4,75.0)(177.8,77.7)(179.7,86.4)(172.7,90.9)(190.5,73.6)(185.4,76.4)(168.9,69.1)(167.6,84.5)(175.3,64.5)(170.2,69.1)(190.5,108.6)(177.8,86.4)(190.5,80.9)(177.8,87.7)(184.2,94.5)(176.5,80.2)(177.8,72.0)(180.3,71.4)(171.4,72.7)(172.7,84.1)(172.7,76.8)(177.8,63.6)(177.8,80.9)(182.9,80.9)(170.2,85.5)(167.6,68.6)(175.3,67.7)(165.1,66.4)(185.4,102.3)(181.6,70.5)(172.7,95.9)(190.5,84.1)(179.1,87.3)(175.3,71.8)(170.2,65.9)(193.0,95.9)(171.4,91.4)(177.8,81.8)(177.8,96.8)(167.6,69.1)(167.6,82.7)(180.3,75.5)(182.9,79.5)(176.5,73.6)(186.7,91.8)(180.3,85.9)(183.0,82.7)(175.3,85.9)(172.7,78.0)(175.3,76.4)(178.0,65.0)(180.3,68.0)(182.9,70.0)(187.0,90.0)(188.0,94.0)(186.0,95.0)(170.2,80.0)(168.9,77.0)(172.7,82.0)(176.5,92.0)(174.0,93.0)(172.7,74)(175.3,74)(177.8,70)(180.3,78)(170.2,75)(168.9,72)(173,68)(175.3,62)(178,75)(182.9,76)(184.2,84)(186,80)(188,78)(170,67)(168,63)(172,64)(166,62)(165,68)(175,58)(177.8,56)(178,60)(169,70)(171,73)(167,72)(174,78)(176,82)(179,79)(181,82)(183,85)};
\addplot[draw=HTMLs3,line width=.6pt,dash pattern=on 1.5pt off 1.5pt] coordinates {(147.2,42)(182.9,42)(182.9,105.2)(147.2,105.2)(147.2,42)};
\addplot[draw=HTMLs4,line width=.6pt,dash pattern=on 1.5pt off 1.5pt] coordinates {(157.2,53.9)(198.1,53.9)(198.1,116.4)(157.2,116.4)(157.2,53.9)};
\addplot[only marks,mark=pin,mark options={fill=HTMLs1}] coordinates {(172.7,105.2)(153.4,42)};
\addplot[only marks,mark=pin,mark options={fill=HTMLs2}] coordinates {(177.8,116.4)(167.4,53.9)};
\end{axis}
\begin{scope}[x=1pt,y=-1pt,yshift=768pt]
\node[font=\fs{7.5},text=HTMLs5] at (533,604.4) {105.2};
\node[font=\fs{7.5},text=HTMLs5] at (455.6,691.6) {42};
\node[font=\fs{7.5},text=HTMLs6] at (554,588.6) {116.4};
\node[font=\fs{7.5},text=HTMLs6] at (512.2,675.6) {53.9};
\end{scope}
% ---------- stacked bars ----------
\begin{axis}[base,xbar stacked,at={(734.3pt,64pt)},width=240.4pt,height=117.3pt,bar width=11pt,xmin=0,xmax=350,ymin=-.5,ymax=6.5,xtick={0,50,...,350},xmajorgrids,grid style={draw=gridc,line width=.7pt},ytick={0,...,6},yticklabels={Mon,Tue,Wed,Thu,Fri,Sat,Sun},minor ytick={-.5,.5,1.5,2.5,3.5,4.5,5.5,6.5},major y tick style={draw=none}]
\addplot[draw=none,fill=cblue] coordinates {(70,0)(43,1)(86,2)(132,3)(75,4)(33,5)(132,6)};
\addplot[draw=none,fill=cgreen] coordinates {(47,0)(123,1)(46,2)(100,3)(116,4)(75,5)(42,6)};
\addplot[draw=none,fill=cyel] coordinates {(172,0)(104,1)(76,2)(83,3)(66,4)(59,5)(96,6)};
\end{axis}
% ---------- lines ----------
\begin{axis}[base,cats,at={(1061.7pt,65.7pt)},width=239pt,height=109pt]
\addplot[draw=none,shade,top color=HTMLa1,bottom color=panel,opacity=.75] coordinates {(0,55)(0,120)(1,200)(2,150)(3,80)(4,70)(5,110)(6,130)(6,55)(0,55)};
\addplot[draw=none,shade,top color=HTMLa2,bottom color=panel,opacity=.7] coordinates {(0,55)(0,130)(1,130)(2,312)(3,268)(4,155)(5,117)(6,160)(6,55)(0,55)};
\addplot[draw=cblue,line width=3.8pt,line join=round,mark=dot,mark size=.8pt,mark options={fill=white}] coordinates {(0,120)(1,200)(2,150)(3,80)(4,70)(5,110)(6,130)};
\addplot[draw=HTMLa3,line width=3.8pt,line join=round] coordinates {(0,130)(1,130)(2,312)(3,268)(4,155)(5,117)(6,160)};
\end{axis}
\end{tikzpicture}
\end{document}
